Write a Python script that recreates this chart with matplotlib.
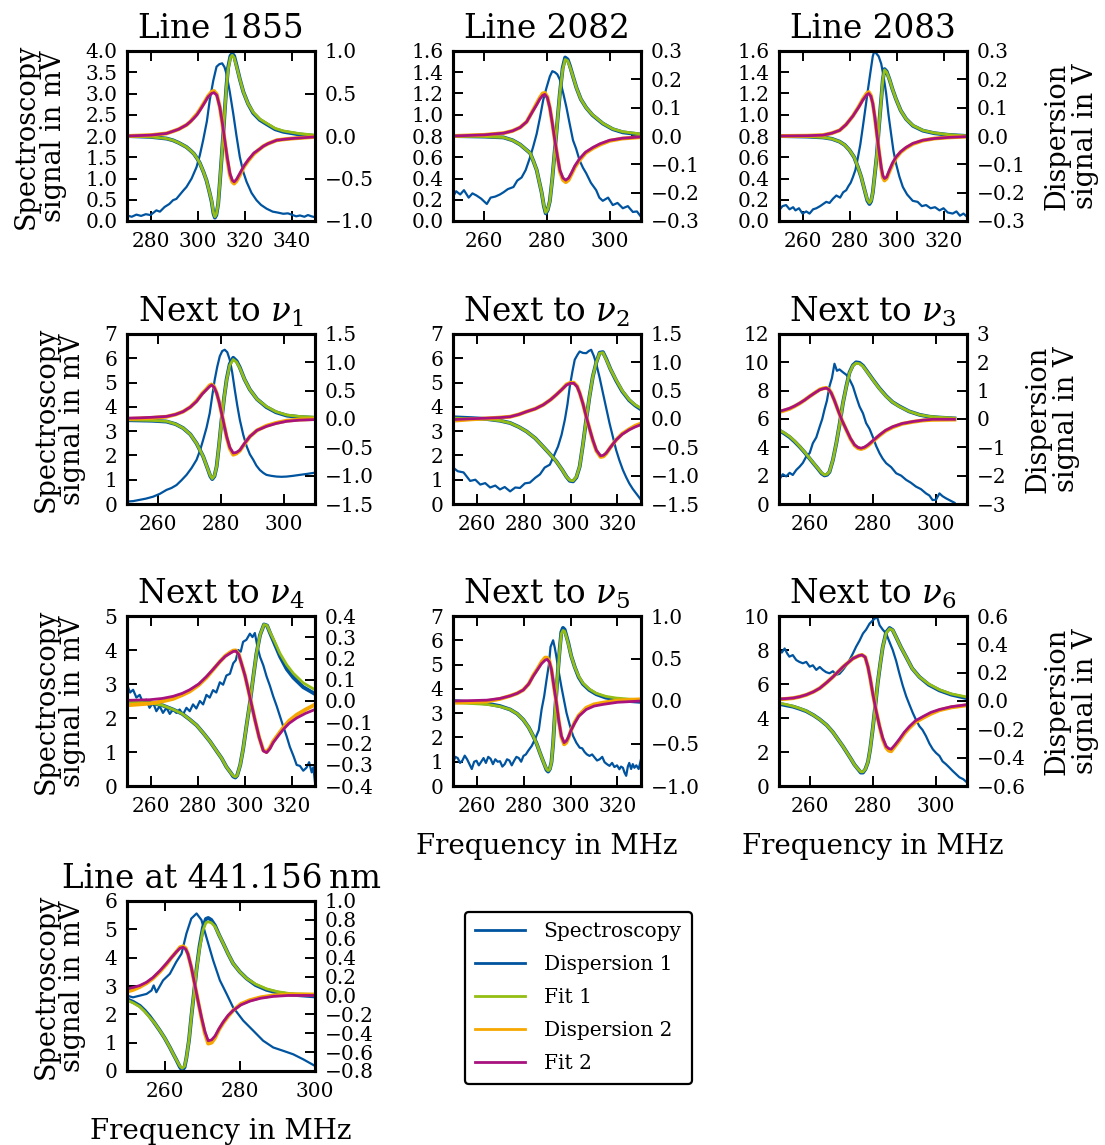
import matplotlib
matplotlib.use("Agg")
import matplotlib.pyplot as plt
from matplotlib.lines import Line2D

plt.rcParams["font.family"] = ["DejaVu Serif"]
plt.rcParams["mathtext.fontset"] = "dejavuserif"

BLUE = "#00549F"
GREEN = "#94BE14"
ORANGE = "#F6A800"
MAGENTA = "#A8127E"

# ---- Line 1855 ----
x1_s = [270, 272, 274, 276, 278, 280, 282.5, 284, 286, 288, 289.6, 291, 292.5, 294, 295.3, 297.5, 299.6, 301,
        302.4, 304, 305.2, 306.7, 308.1, 309.3, 310.5, 311.5, 312.3, 313.7, 315.2, 316.6, 318, 319.5, 320.9,
        323, 325.1, 327, 329.4, 332, 334, 336.5, 338.5, 340, 342, 343.6, 345.5, 347, 348.5, 350]
spec1 = [0.13, 0.10, 0.15, 0.12, 0.16, 0.14, 0.25, 0.22, 0.33, 0.40, 0.49, 0.52, 0.62, 0.72, 0.80, 1.0, 1.27, 1.55,
         1.90, 2.35, 2.84, 3.30, 3.63, 3.69, 3.71, 3.62, 3.47, 3.05, 2.53, 2.0, 1.51, 1.15, 0.92,
         0.66, 0.49, 0.38, 0.29, 0.22, 0.20, 0.17, 0.18, 0.15, 0.11, 0.13, 0.10, 0.14, 0.11, 0.09]
x1_f1 = [270, 280, 286.8, 289.5, 292, 295.3, 297, 298.5, 300, 301, 302.5, 303.8, 305, 306, 306.8, 307.4, 308.0,
         308.8, 309.5, 310.2, 310.9, 311.6, 312.3, 313, 314.0, 314.8, 315.6, 316.6, 318, 319.5, 321.5, 323.7,
         326.5, 329.4, 333, 336.5, 343, 350]
fit1_1 = [0.0, -0.01, -0.03, -0.05, -0.08, -0.13, -0.17, -0.21, -0.27, -0.32, -0.42, -0.52, -0.65, -0.76, -0.90,
          -0.95, -0.92, -0.80, -0.55, -0.28, 0.0, 0.30, 0.57, 0.78, 0.92, 0.95, 0.92, 0.82, 0.67, 0.52, 0.38,
          0.28, 0.20, 0.15, 0.09, 0.06, 0.03, 0.01]
disp1_1 = [0.0, -0.01, -0.03, -0.05, -0.08, -0.13, -0.17, -0.21, -0.27, -0.32, -0.42, -0.52, -0.65, -0.77, -0.91,
           -0.96, -0.93, -0.80, -0.55, -0.28, 0.0, 0.30, 0.58, 0.80, 0.94, 0.97, 0.94, 0.83, 0.67, 0.52, 0.38,
           0.27, 0.19, 0.14, 0.08, 0.05, 0.02, 0.0]
x1_f2 = [270, 280, 283.5, 286.8, 289.5, 292, 295.3, 297, 298.5, 299.8, 301, 302, 303, 304.5, 306, 307, 308.2,
         309.5, 310.5, 311.6, 312.7, 313.8, 314.8, 315.6, 316.6, 318, 319.8, 321.6, 324, 326.6, 328, 330,
         333.7, 336.5, 340, 345, 350]
fit2_1 = [0.0, 0.01, 0.02, 0.03, 0.055, 0.08, 0.13, 0.17, 0.21, 0.25, 0.30, 0.345, 0.39, 0.46, 0.50, 0.51, 0.48,
          0.34, 0.17, -0.05, -0.26, -0.44, -0.52, -0.54, -0.51, -0.44, -0.35, -0.28, -0.20, -0.15, -0.12, -0.09,
          -0.05, -0.04, -0.03, -0.02, -0.01]
disp2_1 = [0.0, 0.01, 0.02, 0.03, 0.055, 0.08, 0.13, 0.17, 0.22, 0.26, 0.31, 0.355, 0.40, 0.47, 0.52, 0.53, 0.49,
           0.34, 0.16, -0.06, -0.28, -0.46, -0.54, -0.56, -0.53, -0.46, -0.36, -0.29, -0.21, -0.15, -0.12, -0.09,
           -0.05, -0.04, -0.03, -0.02, -0.01]

# ---- Line 2082 ----
x2_s = [250, 251, 252.3, 253.5, 255, 256.2, 257.5, 259, 260.8, 262, 263.5, 265, 266.1, 267.5, 269.3, 270.5,
        271.9, 273.2, 274.6, 275.6, 276.7, 277.8, 278.8, 279.8, 280.9, 281.7, 282.5, 283.3, 284.1, 285.2,
        286.2, 287.2, 288.3, 289.3, 290.4, 291.5, 292.5, 294, 295.7, 296.7, 297.8, 299.5, 301, 302.5, 304.2,
        305.8, 307.4, 308.7, 310]
spec2 = [0.23, 0.28, 0.25, 0.29, 0.22, 0.26, 0.24, 0.21, 0.16, 0.22, 0.23, 0.25, 0.27, 0.30, 0.32, 0.38,
         0.41, 0.48, 0.60, 0.70, 0.82, 0.98, 1.14, 1.25, 1.36, 1.41, 1.40, 1.38, 1.33, 1.20,
         1.07, 0.92, 0.76, 0.68, 0.57, 0.50, 0.45, 0.36, 0.29, 0.22, 0.19, 0.22, 0.15, 0.17, 0.12,
         0.14, 0.085, 0.09, 0.04]
x2_f1 = [250, 260, 266.1, 269, 271.4, 273, 274.6, 275.7, 276.7, 277.5, 278.3, 279.0, 279.6, 280.2, 280.9, 281.7,
         282.5, 283.3, 284.1, 285.0, 285.8, 286.6, 287.3, 288.3, 289.4, 290.8, 292.5, 294.5, 297.8, 301, 304.2, 310]
fit1_2 = [0.0, -0.002, -0.005, -0.015, -0.03, -0.045, -0.06, -0.09, -0.12, -0.16, -0.20, -0.245, -0.27, -0.26,
          -0.23, -0.15, -0.05, 0.05, 0.15, 0.235, 0.27, 0.265, 0.245, 0.21, 0.17, 0.13, 0.10, 0.075, 0.045,
          0.025, 0.015, 0.007]
disp1_2 = [0.0, -0.002, -0.005, -0.015, -0.03, -0.045, -0.06, -0.09, -0.12, -0.16, -0.20, -0.247, -0.273, -0.262,
           -0.23, -0.15, -0.05, 0.05, 0.15, 0.24, 0.277, 0.27, 0.248, 0.21, 0.17, 0.13, 0.10, 0.074, 0.044,
           0.024, 0.013, 0.005]
x2_f2 = [250, 260, 266.1, 269, 271.4, 273.5, 275.6, 276.7, 277.7, 278.6, 279.3, 280.1, 280.9, 281.7, 282.5,
         283.3, 284.1, 285.1, 286, 286.9, 287.8, 288.9, 290.4, 292.3, 294.7, 297, 300, 304, 310]
fit2_2 = [0.0, 0.004, 0.01, 0.018, 0.03, 0.05, 0.09, 0.11, 0.13, 0.143, 0.147, 0.135, 0.10, 0.045, -0.015,
          -0.07, -0.12, -0.148, -0.156, -0.148, -0.13, -0.105, -0.08, -0.057, -0.04, -0.027, -0.015, -0.008, -0.003]
disp2_2 = [0.0, 0.004, 0.01, 0.018, 0.03, 0.05, 0.092, 0.115, 0.135, 0.15, 0.152, 0.138, 0.10, 0.045, -0.015,
           -0.07, -0.125, -0.155, -0.163, -0.155, -0.135, -0.11, -0.085, -0.06, -0.043, -0.03, -0.017, -0.009,
           -0.004]

# ---- Line 2083 ----
x3_s = [250, 251.5, 253, 254.5, 256, 257, 258.5, 260, 261.6, 263, 264.5, 265.9, 267.5, 268.8, 270.1, 271.5,
        273, 274.4, 276, 277.3, 278.6, 279.6, 280.5, 281.4, 282.5, 283.6, 284.6, 285.7, 286.7, 287.8, 288.9,
        289.9, 290.6, 291.3, 292.4, 293.5, 294.5, 295.6, 296.6, 297.7, 298.7, 299.8, 301.2, 302.7, 304.5,
        306.9, 309, 310.8, 312.6, 314.5, 316.4, 318.3, 320, 321.8, 323.9, 325.5, 327, 328.5, 330]
spec3 = [0.10, 0.14, 0.15, 0.11, 0.13, 0.10, 0.12, 0.07, 0.09, 0.07, 0.11, 0.12, 0.14, 0.16, 0.18, 0.17,
         0.21, 0.24, 0.22, 0.27, 0.29, 0.33, 0.36, 0.41, 0.48, 0.60, 0.72, 0.89, 1.05, 1.23, 1.40,
         1.55, 1.60, 1.58, 1.55, 1.48, 1.36, 1.20, 1.00, 0.82, 0.66, 0.54, 0.42, 0.32, 0.25,
         0.19, 0.18, 0.14, 0.15, 0.12, 0.13, 0.10, 0.12, 0.08, 0.07, 0.09, 0.05, 0.07, 0.04]
x3_f1 = [250, 262, 268.7, 272.5, 275.8, 278, 280, 282, 283.6, 285, 286.4, 287.6, 288.5, 289.2, 289.9, 290.7,
         291.6, 292.5, 293.5, 294.2, 294.9, 295.8, 297, 298.3, 299.8, 301.8, 304.1, 307, 311.2, 316, 322, 330]
fit1_3 = [0.0, -0.002, -0.005, -0.01, -0.02, -0.032, -0.05, -0.075, -0.11, -0.145, -0.19, -0.225, -0.236,
          -0.228, -0.20, -0.14, -0.07, 0.03, 0.13, 0.20, 0.233, 0.225, 0.20, 0.165, 0.13, 0.09, 0.06, 0.037,
          0.02, 0.011, 0.005, 0.0]
disp1_3 = [0.0, -0.002, -0.005, -0.01, -0.02, -0.032, -0.05, -0.075, -0.11, -0.145, -0.19, -0.228, -0.24,
           -0.23, -0.20, -0.14, -0.07, 0.03, 0.13, 0.20, 0.236, 0.228, 0.20, 0.165, 0.13, 0.09, 0.06, 0.036,
           0.019, 0.01, 0.004, 0.0]
x3_f2 = [250, 262, 268.7, 272.5, 275.8, 278.5, 281.4, 283.8, 285.7, 287.3, 288.2, 289.1, 289.9, 290.8, 291.6,
         292.5, 293.5, 294.2, 294.9, 295.8, 297, 298.3, 299.8, 301.8, 304.1, 307, 311.2, 316, 322, 330]
fit2_3 = [0.0, 0.001, 0.003, 0.01, 0.02, 0.04, 0.07, 0.10, 0.127, 0.145, 0.15, 0.14, 0.115, 0.065, 0.01,
          -0.05, -0.11, -0.14, -0.15, -0.145, -0.12, -0.095, -0.074, -0.055, -0.04, -0.026, -0.015, -0.009,
          -0.005, -0.002]
disp2_3 = [0.0, 0.001, 0.003, 0.01, 0.02, 0.04, 0.07, 0.102, 0.13, 0.15, 0.155, 0.143, 0.115, 0.065, 0.01,
           -0.05, -0.115, -0.147, -0.157, -0.15, -0.125, -0.1, -0.077, -0.057, -0.042, -0.028, -0.016, -0.009,
           -0.005, -0.002]

# ---- Next to nu_1 ----
x4_s = [250, 252, 254, 256, 258.3, 260.5, 262.6, 264.2, 265.8, 267.4, 269, 270.6, 272.2, 273.3, 274.3, 275.4,
        276.4, 277.2, 278, 278.8, 279.6, 280.4, 281.2, 282, 282.8, 283.6, 284.4, 285.2, 286, 287.1, 288.2,
        289.2, 290.3, 291.3, 292.4, 293.5, 294.5, 296, 297.7, 299.3, 301, 303, 305.2, 307.5, 310]
spec4 = [0.10, 0.12, 0.17, 0.22, 0.30, 0.42, 0.58, 0.66, 0.78, 0.98, 1.20, 1.48, 1.82, 2.20, 2.64, 3.15,
         3.74, 4.45, 5.12, 5.65, 6.08, 6.30, 6.35, 6.25, 5.94, 5.40, 4.70, 4.05, 3.47, 2.85, 2.37,
         2.05, 1.82, 1.58, 1.40, 1.28, 1.20, 1.16, 1.13, 1.12, 1.13, 1.16, 1.20, 1.24, 1.29]
x4_f1 = [250, 254, 258, 262.6, 265.5, 267.9, 270.2, 272.2, 274.3, 275.9, 276.6, 277.2, 277.9, 278.6, 279.4,
         280.2, 281, 281.8, 282.8, 283.9, 285, 286, 287.5, 289.2, 291.5, 294.5, 297.5, 301, 305, 310]
fit1_4 = [-0.014, -0.02, -0.025, -0.04, -0.09, -0.16, -0.27, -0.43, -0.66, -0.90, -1.0, -1.05, -1.0, -0.84,
          -0.45, -0.01, 0.38, 0.69, 0.95, 1.05, 1.0, 0.90, 0.70, 0.52, 0.35, 0.22, 0.13, 0.07, 0.045, 0.03]
disp1_4 = [-0.02, -0.025, -0.03, -0.045, -0.09, -0.16, -0.27, -0.43, -0.66, -0.90, -1.01, -1.06, -1.01, -0.84,
           -0.45, -0.01, 0.38, 0.70, 0.97, 1.08, 1.02, 0.91, 0.70, 0.52, 0.35, 0.21, 0.12, 0.06, 0.035, 0.02]
x4_f2 = [250, 254, 258, 262.6, 265.5, 267.9, 270.2, 272.2, 274, 275.4, 276.3, 277, 277.8, 278.6, 279.4, 280.2,
         281, 281.8, 282.8, 283.9, 284.9, 286, 287.5, 289.2, 291.5, 294.5, 297.5, 301, 305, 310]
fit2_4 = [0.015, 0.02, 0.03, 0.045, 0.08, 0.13, 0.21, 0.31, 0.44, 0.52, 0.57, 0.60, 0.56, 0.46, 0.30, 0.10,
          -0.11, -0.31, -0.50, -0.60, -0.59, -0.55, -0.43, -0.31, -0.20, -0.13, -0.08, -0.04, -0.02, -0.01]
disp2_4 = [0.0, 0.01, 0.02, 0.04, 0.08, 0.13, 0.21, 0.32, 0.45, 0.53, 0.59, 0.61, 0.57, 0.46, 0.30, 0.10,
           -0.11, -0.32, -0.52, -0.63, -0.61, -0.56, -0.44, -0.31, -0.20, -0.12, -0.07, -0.03, -0.01, 0.0]

# ---- Next to nu_2 ----
x5_s = [250, 252, 254.5, 257.3, 259.5, 261.6, 263.7, 265.8, 268, 270, 272, 274.3, 276.5, 278.5, 280.6,
        282.7, 285, 287, 289, 291.2, 293, 294.7, 296.2, 297.6, 298.7, 299.7, 300.8, 301.8, 303, 303.9,
        305.3, 306.7, 307.8, 308.8, 309.9, 310.9, 312.4, 313.8, 315.2, 316.6, 318, 319.4, 320.8, 322.3,
        323.7, 325, 326.5, 327.9, 329, 330]
spec5 = [1.50, 1.35, 1.30, 0.95, 1.00, 0.80, 0.86, 0.68, 0.76, 0.60, 0.70, 0.52, 0.68, 0.66, 0.85,
         0.88, 1.08, 1.22, 1.50, 1.62, 2.0, 2.37, 2.85, 3.47, 4.1, 4.84, 5.45, 5.94, 6.15, 6.28,
         6.22, 6.21, 6.30, 6.35, 6.1, 5.80, 5.2, 4.57, 3.95, 3.33, 2.78, 2.23, 1.80, 1.40,
         1.10, 0.85, 0.62, 0.44, 0.30, 0.17]
x5_f1 = [250, 258, 264.4, 270, 274.3, 278, 281.3, 285, 288.4, 291.5, 294, 296.5, 298.3, 299.7, 301.1, 302.5,
         303.9, 305.3, 306.7, 308.1, 309.5, 311, 312.4, 313.8, 315.2, 317, 319.4, 322, 325, 327.5, 330]
fit1_5 = [0.015, 0.005, -0.003, -0.03, -0.07, -0.14, -0.22, -0.34, -0.49, -0.63, -0.75, -0.90, -1.02, -1.08,
          -1.09, -1.02, -0.84, -0.45, -0.01, 0.40, 0.75, 1.0, 1.16, 1.17, 1.05, 0.88, 0.69, 0.50, 0.34, 0.25, 0.19]
disp1_5 = [0.03, 0.015, 0.0, -0.03, -0.07, -0.14, -0.22, -0.34, -0.49, -0.63, -0.75, -0.90, -1.02, -1.09,
           -1.10, -1.03, -0.84, -0.45, -0.01, 0.40, 0.75, 1.0, 1.17, 1.18, 1.06, 0.88, 0.68, 0.49, 0.33, 0.24,
           0.17]
x5_f2 = [250, 258, 264.4, 270, 274.3, 278, 281.3, 285, 288.4, 291.5, 294, 296.3, 298.3, 300, 301.4, 302.8,
         303.9, 305.3, 306.7, 308.1, 309.5, 311, 312.8, 314, 315.2, 317, 319.4, 322, 325, 327.5, 330]
fit2_5 = [-0.01, 0.005, 0.015, 0.025, 0.04, 0.08, 0.13, 0.18, 0.25, 0.34, 0.43, 0.52, 0.60, 0.63, 0.63, 0.57,
          0.46, 0.27, 0.04, -0.17, -0.37, -0.55, -0.65, -0.64, -0.60, -0.50, -0.37, -0.27, -0.19, -0.14, -0.10]
disp2_5 = [-0.03, -0.005, 0.01, 0.025, 0.04, 0.08, 0.13, 0.18, 0.25, 0.34, 0.43, 0.52, 0.61, 0.64, 0.64, 0.58,
           0.46, 0.27, 0.04, -0.17, -0.38, -0.56, -0.67, -0.66, -0.61, -0.50, -0.37, -0.26, -0.18, -0.12, -0.08]

# ---- Next to nu_3 ----
x6_s = [250, 251.2, 252.3, 253.4, 254.4, 255.5, 256.6, 257.6, 258.7, 259.8, 260.8, 261.9, 263, 263.8, 264.5,
        265.3, 266.1, 266.9, 267.7, 268.5, 269.3, 270.4, 271.5, 272.5, 273.6, 274.6, 275.7, 276.8, 277.8,
        278.9, 279.9, 281, 282.1, 283.1, 284.2, 285.8, 287.4, 289, 290.6, 292.1, 293.7, 295.3, 296.9, 298,
        299, 300.1, 301.2, 302.2, 303.3, 304.6, 306]
spec6 = [1.70, 2.10, 1.95, 2.20, 2.05, 2.40, 2.64, 2.90, 3.35, 3.60, 4.29, 4.70, 5.47, 6.00, 6.65,
         7.30, 8.30, 8.90, 9.90, 9.40, 9.50, 9.30, 9.12, 8.80, 8.30, 7.60, 6.88, 6.40, 5.71,
         5.30, 4.76, 4.10, 3.58, 3.20, 2.88, 2.60, 2.17, 2.00, 1.70, 1.50, 1.23, 1.05, 0.75, 0.60,
         0.28, 0.30, 0.75, 0.55, 0.40, 0.25, 0.09]
x6_f1 = [250, 251.7, 253.4, 255, 256.6, 258.2, 259.8, 261.2, 262.4, 263.6, 264.5, 265.3, 266.1, 267.2, 268.3,
         269.4, 270.4, 271.5, 272.5, 273.6, 274.6, 275.7, 276.8, 278.3, 279.9, 282, 284.2, 286.2, 288.4, 291.5,
         294.8, 298, 301.2, 306]
fit1_6 = [-0.38, -0.49, -0.62, -0.78, -0.97, -1.17, -1.39, -1.58, -1.74, -1.90, -1.97, -1.95, -1.86, -1.45,
          -0.85, -0.15, 0.56, 1.15, 1.62, 1.88, 1.97, 1.95, 1.86, 1.64, 1.39, 1.08, 0.80, 0.60, 0.44, 0.27,
          0.15, 0.09, 0.06, 0.03]
disp1_6 = [-0.40, -0.51, -0.64, -0.80, -0.98, -1.18, -1.40, -1.59, -1.75, -1.92, -1.99, -1.97, -1.87, -1.45,
           -0.85, -0.15, 0.56, 1.16, 1.64, 1.90, 2.0, 1.98, 1.88, 1.65, 1.40, 1.09, 0.81, 0.60, 0.45, 0.27,
           0.15, 0.08, 0.05, 0.02]
x6_f2 = [250, 251.7, 253.4, 255, 256.6, 258.2, 259.8, 261.4, 263, 264.1, 265.1, 265.9, 266.7, 267.7, 268.8,
         270.1, 271.5, 272.8, 274.1, 275.2, 276.2, 277.3, 278.4, 280.2, 282.1, 284, 286.3, 289.3, 292.7, 296,
         299, 306]
fit2_6 = [0.27, 0.32, 0.38, 0.46, 0.56, 0.67, 0.80, 0.92, 1.03, 1.07, 1.09, 1.04, 0.91, 0.65, 0.32, -0.05,
          -0.38, -0.68, -0.91, -1.0, -1.03, -0.99, -0.91, -0.74, -0.56, -0.40, -0.27, -0.16, -0.09, -0.04,
          -0.01, -0.01]
disp2_6 = [0.24, 0.30, 0.36, 0.45, 0.55, 0.67, 0.80, 0.92, 1.04, 1.08, 1.10, 1.05, 0.92, 0.65, 0.32, -0.05,
           -0.39, -0.70, -0.93, -1.03, -1.06, -1.02, -0.94, -0.76, -0.58, -0.42, -0.29, -0.17, -0.10, -0.05,
           -0.03, -0.02]

# ---- Next to nu_4 ----
x7_s = [250, 251.3, 252.6, 254, 255.4, 256.8, 258.2, 259.6, 261.1, 262.5, 263.9, 265.3, 266.8, 268.2, 269.6,
        271, 272.4, 273.8, 275.3, 276.7, 278.1, 279.5, 281, 282.4, 283.8, 285.2, 286.6, 288, 289.5, 290.9,
        292.3, 293.8, 295.2, 296.3, 297.3, 298.4, 299.4, 300.8, 302.3, 303.4, 304.4, 305.5, 306.6, 308,
        309.4, 310.8, 312.2, 313.7, 315.1, 316.5, 317.9, 319.3, 320.8, 322.2, 323.6, 325, 326.4, 327.5,
        328.6, 329.3, 330]
spec7 = [2.98, 2.75, 2.83, 2.60, 2.68, 2.45, 2.54, 2.30, 2.45, 2.20, 2.35, 2.15, 2.30, 2.12, 2.25,
         2.15, 2.25, 2.10, 2.30, 2.20, 2.40, 2.28, 2.50, 2.40, 2.68, 2.60, 2.82, 2.75, 3.05, 2.98,
         3.25, 3.30, 3.61, 3.70, 4.00, 3.95, 4.24, 4.30, 4.48, 4.38, 4.50, 4.10, 3.80, 3.55,
         3.22, 2.95, 2.64, 2.35, 2.05, 1.75, 1.47, 1.15, 0.89, 0.62, 0.59, 0.45, 0.54, 0.70,
         0.40, 0.55, 0.11]
x7_f1 = [250, 259.7, 265, 269.6, 273.5, 276.7, 279.7, 282.4, 285.3, 288.1, 290.3, 292.3, 294.3, 295.2, 296.1,
         296.9, 298.2, 299.4, 300.8, 302.3, 303.7, 305.1, 306.6, 308.3, 309.6, 310.8, 312.8, 315.1, 318, 320.8,
         325, 330]
fit1_7 = [-0.002, -0.009, -0.02, -0.04, -0.06, -0.087, -0.115, -0.15, -0.19, -0.235, -0.27, -0.31, -0.34,
          -0.352, -0.357, -0.35, -0.30, -0.227, -0.12, -0.009, 0.11, 0.224, 0.31, 0.36, 0.355, 0.325, 0.28,
          0.224, 0.17, 0.13, 0.085, 0.053]
disp1_7 = [-0.002, -0.009, -0.02, -0.04, -0.06, -0.087, -0.115, -0.15, -0.19, -0.235, -0.27, -0.31, -0.34,
           -0.355, -0.36, -0.35, -0.30, -0.227, -0.12, -0.009, 0.11, 0.224, 0.31, 0.36, 0.355, 0.322, 0.27,
           0.21, 0.15, 0.11, 0.065, 0.033]
x7_f2 = [250, 259.7, 265, 269.6, 273.5, 276.7, 280.5, 283.8, 286.7, 289.5, 291.8, 293.8, 295.2, 296.3, 297.5,
         298.7, 300.2, 301.6, 303, 304.4, 306.2, 308, 309.4, 310.8, 312.2, 314.3, 316.5, 319, 322.2, 326, 330]
fit2_7 = [0.003, 0.006, 0.012, 0.022, 0.036, 0.053, 0.08, 0.115, 0.15, 0.185, 0.21, 0.224, 0.233, 0.235,
          0.22, 0.177, 0.12, 0.053, -0.017, -0.087, -0.17, -0.235, -0.243, -0.225, -0.196, -0.165, -0.134,
          -0.105, -0.08, -0.058, -0.04]
disp2_7 = [-0.02, -0.012, -0.002, 0.01, 0.028, 0.045, 0.075, 0.11, 0.148, 0.185, 0.212, 0.228, 0.237, 0.238,
           0.222, 0.177, 0.12, 0.053, -0.017, -0.087, -0.17, -0.232, -0.24, -0.22, -0.19, -0.158, -0.125,
           -0.093, -0.065, -0.04, -0.017]

# ---- Next to nu_5 ----
x8_s = [250, 251, 252, 253, 254, 255, 256, 257, 258, 259, 260, 261, 262, 263, 264, 265, 266, 267, 268, 269,
        270, 271, 272, 273, 274, 275, 276, 277, 278, 279, 280, 281, 282, 283.5, 285, 286.5, 287.7, 288.8,
        289.8, 290.8, 291.5, 292.6, 293.3, 294, 295, 296.1, 297.2, 298.3, 299.7, 301.1, 302.5, 303.9, 305,
        306, 307, 308.1, 309.2, 310.2, 311.3, 312.4, 313.5, 314.5, 315.5, 316.6, 317.7, 318.7, 319.8, 320.8,
        321.5, 322.3, 323, 323.7, 324.4, 325, 325.8, 326.5, 327.2, 328, 329, 330]
spec8 = [0.97, 1.20, 1.15, 0.95, 1.05, 1.25, 1.10, 0.90, 0.70, 1.00, 1.04, 0.85, 1.00, 1.15, 0.95, 1.20,
         1.12, 0.90, 1.10, 1.00, 1.02, 0.80, 0.90, 1.10, 1.05, 0.85, 1.04, 1.20, 1.15, 1.00, 1.24, 1.30,
         1.45, 1.65, 1.95, 2.30, 3.15, 3.70, 4.37, 5.0, 5.73, 6.0, 5.70, 5.32, 4.70, 4.10, 3.55, 3.01,
         2.50, 2.06, 1.78, 1.58, 1.55, 1.40, 1.30, 1.24, 1.30, 1.18, 1.05, 1.10, 1.20, 0.98, 0.90, 0.83,
         0.95, 0.78, 0.85, 0.69, 0.80, 0.75, 0.55, 0.42, 0.80, 0.95, 0.70, 0.90, 0.75, 0.85, 0.70, 1.10]
x8_f1 = [250, 258, 264.4, 270, 274.3, 277.3, 279.9, 282.2, 284.1, 285.7, 287, 288.1, 289.1, 289.8, 290.5,
         291.2, 291.9, 292.6, 293.3, 294, 294.7, 295.4, 296.1, 296.8, 297.5, 298.2, 299, 300.3, 301.8, 303.5,
         305.3, 308, 311, 315, 319.4, 325, 330]
fit1_8 = [-0.02, -0.03, -0.04, -0.065, -0.10, -0.15, -0.22, -0.31, -0.41, -0.51, -0.61, -0.69, -0.76, -0.80,
          -0.82, -0.80, -0.72, -0.50, -0.18, 0.10, 0.37, 0.60, 0.79, 0.83, 0.82, 0.76, 0.68, 0.53, 0.40, 0.29,
          0.21, 0.14, 0.09, 0.055, 0.035, 0.022, 0.016]
disp1_8 = [0.0, -0.015, -0.03, -0.06, -0.10, -0.15, -0.22, -0.31, -0.41, -0.51, -0.61, -0.69, -0.76, -0.81,
           -0.83, -0.80, -0.72, -0.50, -0.18, 0.10, 0.37, 0.61, 0.81, 0.86, 0.84, 0.77, 0.69, 0.53, 0.40, 0.28,
           0.20, 0.13, 0.08, 0.04, 0.02, 0.0, -0.01]
x8_f2 = [250, 258, 264.4, 270, 274.3, 277.3, 279.9, 282.2, 284.1, 286, 287.7, 289.2, 290.1, 291, 291.9, 292.9,
         294, 295, 296.1, 297.3, 298.2, 299, 300.3, 301.8, 303.5, 306.7, 310, 313.8, 320, 330]
fit2_8 = [0.0, 0.005, 0.01, 0.03, 0.06, 0.09, 0.13, 0.20, 0.29, 0.37, 0.44, 0.48, 0.49, 0.46, 0.37, 0.18,
          -0.02, -0.23, -0.41, -0.49, -0.47, -0.43, -0.34, -0.26, -0.18, -0.10, -0.06, -0.04, -0.015, 0.0]
disp2_8 = [-0.02, -0.012, -0.005, 0.025, 0.06, 0.09, 0.13, 0.20, 0.30, 0.38, 0.46, 0.51, 0.51, 0.47, 0.37,
           0.18, -0.02, -0.23, -0.42, -0.51, -0.49, -0.44, -0.34, -0.25, -0.17, -0.08, -0.04, -0.02, 0.005, 0.02]

# ---- Next to nu_6 ----
x9_s = [250, 250.9, 251.8, 252.6, 253.3, 254.4, 255.5, 256.5, 257.6, 258.7, 259.8, 260.8, 261.9, 263, 264,
        265, 266.1, 267.2, 268.3, 269.3, 270.4, 271.5, 272.5, 273.6, 274.6, 275.7, 276.8, 277.8, 278.9, 279.7,
        280.5, 281.3, 282.1, 283.1, 284.2, 285.2, 286.3, 287.4, 288.4, 289.5, 290.6, 291.6, 292.7, 293.7,
        294.8, 295.8, 296.9, 298, 299.1, 300.1, 301.2, 302.2, 303.3, 304.3, 305.4, 306.5, 307.6, 308.8, 310]
spec9 = [8.0, 7.85, 8.09, 7.80, 7.61, 7.70, 7.41, 7.30, 7.22, 7.30, 7.02, 7.10, 6.83, 7.00, 6.83, 6.70,
         6.63, 6.75, 6.54, 6.60, 6.83, 7.10, 7.41, 7.80, 8.19, 8.55, 8.97, 9.20, 9.55, 9.70, 9.84, 9.95,
         9.46, 9.20, 8.97, 8.50, 8.0, 7.35, 6.63, 5.90, 5.27, 4.80, 4.30, 3.90, 3.52, 3.30, 2.94, 2.50,
         2.16, 1.95, 1.77, 1.45, 1.28, 1.10, 0.89, 0.70, 0.51, 0.40, 0.21]
x9_f1 = [250, 252.2, 254.5, 256.6, 258.7, 261, 263, 265.2, 267.2, 268.8, 270.4, 271.7, 273, 274.1, 275.2,
         276.1, 276.8, 277.6, 278.4, 279.1, 279.9, 280.7, 281.5, 282.3, 283.1, 284.2, 285.3, 286.3, 287.4,
         288.9, 290.6, 292.5, 294.8, 297.8, 301.2, 305, 310]
fit1_9 = [-0.014, -0.024, -0.037, -0.052, -0.07, -0.10, -0.13, -0.17, -0.22, -0.27, -0.32, -0.365, -0.41,
          -0.45, -0.48, -0.50, -0.50, -0.48, -0.43, -0.34, -0.20, -0.04, 0.126, 0.26, 0.38, 0.48, 0.51, 0.50,
          0.45, 0.38, 0.31, 0.23, 0.17, 0.12, 0.08, 0.05, 0.028]
disp1_9 = [-0.02, -0.03, -0.04, -0.055, -0.072, -0.10, -0.13, -0.17, -0.22, -0.27, -0.32, -0.365, -0.41,
           -0.45, -0.48, -0.505, -0.505, -0.48, -0.43, -0.34, -0.20, -0.04, 0.126, 0.26, 0.38, 0.485, 0.515,
           0.50, 0.45, 0.38, 0.31, 0.23, 0.17, 0.115, 0.075, 0.045, 0.02]
x9_f2 = [250, 252.2, 254.5, 256.6, 258.7, 261, 263, 265.2, 267.2, 268.8, 270.4, 272, 273.6, 275.5, 276.5,
         277.5, 278.4, 279.1, 279.9, 281, 282.1, 283.1, 284.2, 285, 285.8, 287, 288.4, 290, 291.6, 293.5,
         295.9, 298.5, 301.2, 305, 310]
fit2_9 = [0.014, 0.017, 0.021, 0.03, 0.044, 0.065, 0.09, 0.13, 0.17, 0.205, 0.24, 0.27, 0.30, 0.32, 0.325,
          0.31, 0.24, 0.16, 0.056, -0.07, -0.18, -0.26, -0.32, -0.335, -0.34, -0.31, -0.27, -0.22, -0.18,
          -0.14, -0.11, -0.08, -0.06, -0.04, -0.026]
disp2_9 = [0.012, 0.015, 0.02, 0.03, 0.043, 0.065, 0.09, 0.13, 0.17, 0.205, 0.24, 0.27, 0.30, 0.32, 0.325,
           0.31, 0.24, 0.16, 0.056, -0.07, -0.18, -0.27, -0.33, -0.35, -0.355, -0.32, -0.28, -0.23, -0.19,
           -0.15, -0.12, -0.09, -0.065, -0.045, -0.03]

# ---- Line at 441.156 nm ----
x10_s = [250, 251.6, 253.4, 255.2, 256.5, 257.1, 257.8, 259.6, 261.4, 263.1, 264.5, 265.8, 267.1, 268.5,
         269.8, 271.1, 272.9, 274.7, 276.5, 278.2, 280.9, 283.6, 286.2, 288.9, 291.6, 294.2, 296.9, 300]
spec10 = [2.66, 2.60, 2.66, 2.72, 2.84, 3.02, 2.78, 3.20, 3.43, 3.85, 4.14, 4.85, 5.38, 5.56,
          5.33, 4.73, 3.91, 3.20, 2.72, 2.25, 1.78, 1.42, 1.07, 0.83, 0.71, 0.59, 0.41, 0.18]
x10_f1 = [250, 251.7, 253.4, 254.7, 256, 257.3, 258.7, 260, 261.4, 262.3, 263.1, 264.1, 264.7, 265.3, 265.8,
          266.5, 267.1, 267.8, 268.5, 269.3, 270.2, 271, 271.6, 272.4, 273.4, 274.5, 275.6, 276.9, 278.2, 280,
          281.8, 284.2, 287.1, 290, 293.3, 300]
fit1_10 = [-0.05, -0.08, -0.12, -0.17, -0.23, -0.29, -0.37, -0.45, -0.55, -0.62, -0.68, -0.75, -0.77, -0.75,
           -0.66, -0.47, -0.23, 0.02, 0.27, 0.50, 0.69, 0.77, 0.78, 0.77, 0.73, 0.64, 0.55, 0.44, 0.34, 0.25,
           0.18, 0.12, 0.07, 0.04, 0.02, 0.01]
disp1_10 = [-0.04, -0.07, -0.11, -0.16, -0.22, -0.29, -0.37, -0.45, -0.55, -0.62, -0.68, -0.76, -0.79, -0.76,
            -0.66, -0.47, -0.23, 0.02, 0.28, 0.52, 0.72, 0.81, 0.82, 0.80, 0.74, 0.64, 0.55, 0.44, 0.34, 0.25,
            0.18, 0.11, 0.06, 0.03, 0.01, -0.01]
x10_f2 = [250, 251.7, 253.4, 255.2, 256.9, 258.7, 260.5, 261.8, 263.1, 264.1, 264.9, 265.6, 266.2, 267.1, 268,
          268.9, 269.8, 270.7, 271.6, 272.5, 273.4, 274.5, 275.6, 276.9, 278.2, 280.3, 282.7, 285.5, 288.9, 293,
          300]
fit2_10 = [0.07, 0.085, 0.105, 0.14, 0.19, 0.26, 0.34, 0.40, 0.46, 0.50, 0.51, 0.49, 0.44, 0.30, 0.12, -0.06,
           -0.23, -0.38, -0.48, -0.47, -0.43, -0.35, -0.28, -0.21, -0.16, -0.10, -0.06, -0.03, -0.01, 0.0, 0.0]
disp2_10 = [0.04, 0.06, 0.09, 0.13, 0.18, 0.25, 0.33, 0.40, 0.46, 0.51, 0.52, 0.50, 0.44, 0.30, 0.12, -0.06,
            -0.24, -0.40, -0.51, -0.50, -0.45, -0.36, -0.29, -0.22, -0.16, -0.09, -0.05, -0.02, 0.0, 0.01, 0.01]

TITLES = ["Line 1855", "Line 2082", "Line 2083",
          r"Next to $\nu_1$", r"Next to $\nu_2$", r"Next to $\nu_3$",
          r"Next to $\nu_4$", r"Next to $\nu_5$", r"Next to $\nu_6$",
          "Line at 441.156\u2009nm"]

# one entry per panel: (spec x, spec, fit1 x, disp1, fit1, fit2 x, disp2, fit2)
PANELS = [
    (x1_s, spec1, x1_f1, disp1_1, fit1_1, x1_f2, disp2_1, fit2_1),
    (x2_s, spec2, x2_f1, disp1_2, fit1_2, x2_f2, disp2_2, fit2_2),
    (x3_s, spec3, x3_f1, disp1_3, fit1_3, x3_f2, disp2_3, fit2_3),
    (x4_s, spec4, x4_f1, disp1_4, fit1_4, x4_f2, disp2_4, fit2_4),
    (x5_s, spec5, x5_f1, disp1_5, fit1_5, x5_f2, disp2_5, fit2_5),
    (x6_s, spec6, x6_f1, disp1_6, fit1_6, x6_f2, disp2_6, fit2_6),
    (x7_s, spec7, x7_f1, disp1_7, fit1_7, x7_f2, disp2_7, fit2_7),
    (x8_s, spec8, x8_f1, disp1_8, fit1_8, x8_f2, disp2_8, fit2_8),
    (x9_s, spec9, x9_f1, disp1_9, fit1_9, x9_f2, disp2_9, fit2_9),
    (x10_s, spec10, x10_f1, disp1_10, fit1_10, x10_f2, disp2_10, fit2_10),
]

XLIMS = [(270, 350), (250, 310), (250, 330), (250, 310), (250, 330), (250, 310),
         (250, 330), (250, 330), (250, 310), (250, 300)]
XTICKS = [[280, 300, 320, 340], [260, 280, 300], [260, 280, 300, 320], [260, 280, 300],
          [260, 280, 300, 320], [260, 280, 300], [260, 280, 300, 320], [260, 280, 300, 320],
          [260, 280, 300], [260, 280, 300]]
# left axis: (max, step)   right axis: (min, max, step, decimals)
LEFT = [(4, 0.5), (1.6, 0.2), (1.6, 0.2), (7, 1), (7, 1), (12, 2), (5, 1), (7, 1), (10, 2), (6, 1)]
RIGHT = [(-1, 1, 0.5, 1), (-0.3, 0.3, 0.1, 1), (-0.3, 0.3, 0.1, 1), (-1.5, 1.5, 0.5, 1),
         (-1.5, 1.5, 0.5, 1), (-3, 3, 1, 0), (-0.4, 0.4, 0.1, 1), (-1, 1, 0.5, 1),
         (-0.6, 0.6, 0.2, 1), (-0.8, 1.0, 0.2, 1)]

W, H = 1105, 1145
COL_LEFT = [127, 453, 779]
ROW_TOP = [51, 334, 616, 901]
AX_W, AX_H = 188, 170
FS_TICK = 14.5

fig = plt.figure(figsize=(W / 100, H / 100), dpi=100)

TICK = dict(direction="in", length=7, width=1.4, labelsize=FS_TICK)


def fmt(v, dec):
    s = f"{v:.{dec}f}"
    if abs(v) < 1e-9:
        s = f"{0:.{dec}f}"
    return s.replace("-", "\u2212")


for i, (xs, sp, xf1, d1, f1, xf2, d2, f2) in enumerate(PANELS):
    row, col = divmod(i, 3)
    rect = [COL_LEFT[col] / W, 1 - (ROW_TOP[row] + AX_H) / H, AX_W / W, AX_H / H]
    ax = fig.add_axes(rect)
    ax.plot(xs, sp, color=BLUE, lw=1.6)
    ax.set_xlim(*XLIMS[i])
    ax.set_xticks(XTICKS[i])
    lmax, lstep = LEFT[i]
    ax.set_ylim(0, lmax)
    lt = [k * lstep for k in range(int(round(lmax / lstep)) + 1)]
    ax.set_yticks(lt)
    ax.set_yticklabels([fmt(v, 1 if lstep < 1 else 0) for v in lt])
    ax.tick_params(axis="both", top=True, right=False, **TICK)
    ax.tick_params(axis="y", pad=7)
    ax.tick_params(axis="x", pad=8)

    tw = ax.twinx()
    tw.plot(xf1, d1, color=BLUE, lw=2.8)
    tw.plot(xf1, f1, color=GREEN, lw=2.0)
    tw.plot(xf2, d2, color=ORANGE, lw=2.8)
    tw.plot(xf2, f2, color=MAGENTA, lw=2.0)
    rmin, rmax, rstep, dec = RIGHT[i]
    tw.set_ylim(rmin, rmax)
    rt = [rmin + k * rstep for k in range(int(round((rmax - rmin) / rstep)) + 1)]
    tw.set_yticks(rt)
    tw.set_yticklabels([fmt(v, dec) for v in rt])
    tw.tick_params(axis="y", pad=7, **TICK)

    for a in (ax, tw):
        for s in a.spines.values():
            s.set_linewidth(2.2)

    ax.set_title(TITLES[i], fontsize=23.5, pad=9)
    if col == 0:
        ax.set_ylabel("Spectroscopy\nsignal in mV", fontsize=19.5, linespacing=1.0, labelpad=13)
    if col == 2 and row < 3:
        tw.set_ylabel("Dispersion\nsignal in V", fontsize=19.5, linespacing=1.05, labelpad=13)
    if i in (7, 8, 9):
        ax.set_xlabel("Frequency in MHz", fontsize=20, labelpad=12)

handles = [Line2D([], [], color=c, lw=2) for c in (BLUE, BLUE, GREEN, ORANGE, MAGENTA)]
labels = ["Spectroscopy", "Dispersion 1", "Fit 1", "Dispersion 2", "Fit 2"]
leg = fig.legend(handles, labels, loc="upper left", bbox_to_anchor=(465 / W, 1 - 912 / H),
                 borderaxespad=0, fontsize=FS_TICK, frameon=True, fancybox=True,
                 handlelength=2.5, handletextpad=0.9, labelspacing=0.7, borderpad=0.5,
                 framealpha=1)
leg.get_frame().set_edgecolor("black")
leg.get_frame().set_linewidth(1.6)

fig.savefig("out.png", dpi=100)
